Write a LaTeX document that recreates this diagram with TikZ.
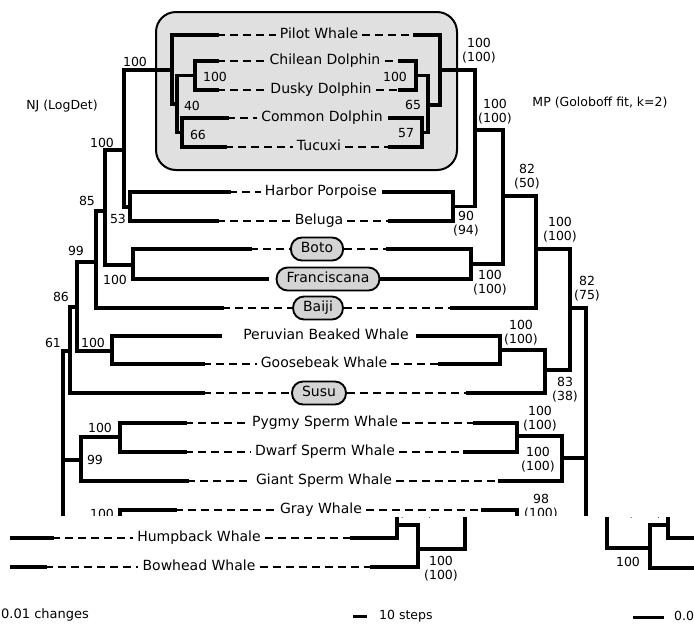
\documentclass[tikz,border=0pt]{standalone}
\usepackage{fontspec}
\setmainfont{DejaVu Sans}
\definecolor{boxgray}{gray}{0.88}
\definecolor{ovalgray}{gray}{0.83}
\begin{document}
\begin{tikzpicture}[x=1pt,y=-1pt,
  tree/.style={line width=3.3pt, line cap=rect},
  dsh/.style={line width=1.8pt, dash pattern=on 8pt off 5pt},
  taxon/.style={inner xsep=4pt, inner ysep=0pt, text height=10pt, text depth=3pt, font=\fontsize{14}{16}\selectfont},
  oval/.style={taxon, draw, line width=1.9pt, fill=ovalgray, rounded corners=11pt, minimum height=23pt, inner xsep=10pt},
  bs/.style={font=\fontsize{12.5}{14}\selectfont, inner sep=0pt, align=center},
  hdr/.style={font=\fontsize{12.5}{14}\selectfont, inner sep=0pt}
]
\useasboundingbox (0,0) rectangle (694,625);

% ---------------- upper part (cut at y=515) ----------------
\begin{scope}
\clip (0,0) rectangle (694,515);
\node[draw, line width=2pt, fill=boxgray, rounded corners=20pt, minimum width=301pt, minimum height=158pt, inner sep=0pt] (dbox) at (306.5,91) {};

\foreach \id/\txt/\st/\cx/\y/\lx/\rx/\dl/\dr in {
  Pilot/Pilot Whale/taxon/319/35/217/415/1/1,
  Ch/Chilean Dolphin/taxon/325/61/217/400/1/1,
  Du/Dusky Dolphin/taxon/321/90/217/400/1/1,
  Co/Common Dolphin/taxon/322/118/227/390/1/0,
  Tu/Tucuxi/taxon/319/147/225/390/1/1,
  Ha/Harbor Porpoise/taxon/321/192/229/384/1/0,
  Be/Beluga/taxon/319/221/217/390/1/1,
  Bo/Boto/oval/317/249/250/388/1/1,
  Fr/Franciscana/oval/328/279/267/382/0/0,
  Ba/Baiji/oval/318/308/222/452/1/1,
  Pe/Peruvian Beaked Whale/taxon/326/336/220/418/0/0,
  Go/Goosebeak Whale/taxon/324/364/203/440/1/1,
  Su/Susu/oval/319/393/203/468/1/1,
  Py/Pygmy Sperm Whale/taxon/325/423/185/475/1/1,
  Dw/Dwarf Sperm Whale/taxon/325/452/185/465/1/1,
  Gi/Giant Sperm Whale/taxon/324/481/187/500/1/1,
  Gr/Gray Whale/taxon/321/510/175/483/1/1}
{
  \node[\st] (t\id) at (\cx,\y) {\txt};
  \coordinate (l\id) at (\lx,\y);
  \coordinate (r\id) at (\rx,\y);
  \ifnum\dl=1 \draw[dsh] (l\id) -- (t\id.west);\fi
  \ifnum\dr=1 \draw[dsh] (t\id.east) -- (r\id);\fi
}

% left tree (NJ) internal nodes
\coordinate (aChDu) at (195,75.5);
\coordinate (aCoTu) at (182,132.5);
\coordinate (a40) at (177,104);
\coordinate (aDel) at (172,70);
\coordinate (aBox) at (124,150);
\coordinate (aHaBe) at (130,207);
\coordinate (aBoFr) at (133,265);
\coordinate (a100) at (105,211);
\coordinate (a85) at (96,262);
\coordinate (aPeGo) at (112,351);
\coordinate (a99) at (77,307);
\coordinate (a86) at (70,351);
\coordinate (a61) at (63,351);
\coordinate (aBot) at (63,525);
\coordinate (aPyDw) at (120,437);
\coordinate (aSp) at (81,460);
\coordinate (aGrv) at (120,525);

\draw[tree] (aChDu) |- (lCh);  \draw[tree] (aChDu) |- (lDu);
\draw[tree] (aCoTu) |- (lCo);  \draw[tree] (aCoTu) |- (lTu);
\draw[tree] (a40) |- (aChDu);  \draw[tree] (a40) |- (aCoTu);
\draw[tree] (aDel) |- (lPilot); \draw[tree] (aDel) |- (a40);
\draw[tree] (aBox) |- (aDel);  \draw[tree] (aBox) |- (aHaBe);
\draw[tree] (aHaBe) |- (lHa);  \draw[tree] (aHaBe) |- (lBe);
\draw[tree] (aBoFr) |- (lBo);  \draw[tree] (aBoFr) |- (lFr);
\draw[tree] (a100) |- (aBox);  \draw[tree] (a100) |- (aBoFr);
\draw[tree] (a85) |- (a100);   \draw[tree] (a85) |- (lBa);
\draw[tree] (aPeGo) |- (lPe);  \draw[tree] (aPeGo) |- (lGo);
\draw[tree] (a99) |- (a85);    \draw[tree] (a99) |- (aPeGo);
\draw[tree] (a86) |- (a99);    \draw[tree] (a86) |- (lSu);
\draw[tree] (a61) -- (a86);    \draw[tree] (a61) -- (aBot);
\draw[tree] (aBot) |- (aSp);
\draw[tree] (aPyDw) |- (lPy);  \draw[tree] (aPyDw) |- (lDw);
\draw[tree] (aSp) |- (aPyDw);  \draw[tree] (aSp) |- (lGi);
\draw[tree] (aGrv) |- (lGr);

% right tree (MP) internal nodes
\coordinate (bChDu) at (416,75.5);
\coordinate (bCoTu) at (422,132.5);
\coordinate (b65) at (428,105);
\coordinate (bDel) at (440,70);
\coordinate (bHaBe) at (453,206.5);
\coordinate (b475) at (475,130);
\coordinate (bBoFr) at (471,264);
\coordinate (b503) at (503,196);
\coordinate (b536) at (536,249);
\coordinate (bPeGo) at (500,350);
\coordinate (b545) at (545,370);
\coordinate (b570) at (570,308);
\coordinate (bPyDw) at (517,436);
\coordinate (b562) at (562,458);
\coordinate (b586) at (586,308);
\coordinate (bBot) at (586,525);
\coordinate (bGrv) at (517,525);

\draw[tree] (bChDu) |- (rCh);  \draw[tree] (bChDu) |- (rDu);
\draw[tree] (bCoTu) |- (rCo);  \draw[tree] (bCoTu) |- (rTu);
\draw[tree] (b65) |- (bChDu);  \draw[tree] (b65) |- (bCoTu);
\draw[tree] (bDel) |- (rPilot); \draw[tree] (bDel) |- (b65);
\draw[tree] (bHaBe) |- (rHa);  \draw[tree] (bHaBe) |- (rBe);
\draw[tree] (b475) |- (bDel);  \draw[tree] (b475) |- (bHaBe);
\draw[tree] (bBoFr) |- (rBo);  \draw[tree] (bBoFr) |- (rFr);
\draw[tree] (b503) |- (b475);  \draw[tree] (b503) |- (bBoFr);
\draw[tree] (b536) |- (b503);  \draw[tree] (b536) |- (rBa);
\draw[tree] (bPeGo) |- (rPe);  \draw[tree] (bPeGo) |- (rGo);
\draw[tree] (b545) |- (bPeGo); \draw[tree] (b545) |- (rSu);
\draw[tree] (b570) |- (b536);  \draw[tree] (b570) |- (b545);
\draw[tree] (b586) -- (b570);  \draw[tree] (b586) -- (bBot);
\draw[tree] (bBot) |- (b562);
\draw[tree] (b562) |- (bPyDw); \draw[tree] (b562) |- (rGi);
\draw[tree] (bPyDw) |- (rPy);  \draw[tree] (bPyDw) |- (rDw);
\draw[tree] (bGrv) |- (rGr);

% support values, left
\node[bs] (L1) at (135,62) {100};
\node[bs] (L2) at (215,77) {100};
\node[bs] (L3) at (192,106) {40};
\node[bs] (L4) at (198,135) {66};
\node[bs] (L5) at (102,143) {100};
\node[bs] (L6) at (118,219) {53};
\node[bs] (L7) at (87,201) {85};
\node[bs] (L8) at (76,251) {99};
\node[bs] (L9) at (115,280) {100};
\node[bs] (L10) at (61,297) {86};
\node[bs] (L11) at (53,343) {61};
\node[bs] (L12) at (93,343) {100};
\node[bs] (L13) at (100,428) {100};
\node[bs] (L14) at (95,460) {99};
\node[bs] (L15) at (102,514) {100};

% support values, right
\node[bs] (R1) at (395,77) {100};
\node[bs] (R2) at (413,105) {65};
\node[bs] (R3) at (406,133) {57};
\node[bs] (R4) at (479,51) {100\\(100)};
\node[bs] (R5) at (495,111.5) {100\\(100)};
\node[bs] (R6) at (527,177) {82\\(50)};
\node[bs] (R7) at (466,224) {90\\(94)};
\node[bs] (R8) at (490,283) {100\\(100)};
\node[bs] (R9) at (560,230) {100\\(100)};
\node[bs] (R10) at (587,289) {82\\(75)};
\node[bs] (R11) at (521,332.5) {100\\(100)};
\node[bs] (R12) at (565,390) {83\\(38)};
\node[bs] (R13) at (540,419) {100\\(100)};
\node[bs] (R14) at (538,460) {100\\(100)};
\node[bs] (R15) at (541,507) {98\\(100)};

\node[hdr] (hNJ) at (62,106) {NJ (LogDet)};
\node[hdr] (hMP) at (600,103) {MP (Goloboff fit, k=2)};
\end{scope}

% ---------------- lower part ----------------
\begin{scope}
\clip (0,517) rectangle (694,625);
\node[bs] (P1) at (416,513) {(100)};
\node[bs] (P2) at (645,513) {(100)};

\foreach \id/\txt/\cx/\y/\lx/\rx in {
  Hu/Humpback Whale/199/538/52/352,
  Bw/Bowhead Whale/199/567/45/372}
{
  \node[taxon] (t\id) at (\cx,\y) {\txt};
  \coordinate (l\id) at (\lx,\y);
  \coordinate (r\id) at (\rx,\y);
  \draw[dsh] (l\id) -- (t\id.west);
  \draw[dsh] (t\id.east) -- (r\id);
}
\coordinate (hHu) at (12,538);
\coordinate (hBw) at (12,567);
\draw[tree] (hHu) -- (lHu);
\draw[tree] (hBw) -- (lBw);

\coordinate (c397t) at (397,516);
\coordinate (c397) at (397,525);
\coordinate (c418) at (418,549);
\coordinate (c465t) at (465,516);
\draw[tree] (c397t) |- (rHu);
\draw[tree] (c418) |- (c397);
\draw[tree] (c418) |- (rBw);
\draw[tree] (c465t) |- (c418);
\node[bs] (R16) at (441,568.5) {100\\(100)};

\coordinate (d607t) at (607,516);
\coordinate (d650) at (650,548);
\coordinate (d668) at (668,525);
\coordinate (d668t) at (668,516);
\coordinate (dE1) at (696,538);
\coordinate (dE2) at (696,568);
\draw[tree] (d607t) |- (d650);
\draw[tree] (d650) |- (d668);
\draw[tree] (d668t) |- (dE1);
\draw[tree] (d650) |- (dE2);
\node[bs] (R17) at (628,562) {100};
\end{scope}

% scale bars
\node[hdr, anchor=west, font=\fontsize{13}{15}\selectfont] (sc1) at (1,615) {0.01 changes};
\coordinate (s2a) at (353,616);
\coordinate (s2b) at (367,616);
\draw[line width=3pt] (s2a) -- (s2b);
\node[hdr, anchor=west] (sc2) at (379,616) {10 steps};
\coordinate (s3a) at (633,617);
\coordinate (s3b) at (664,617);
\draw[line width=3pt] (s3a) -- (s3b);
\node[hdr, anchor=west] (sc3) at (674,617) {0.01 changes};
\end{tikzpicture}
\end{document}
